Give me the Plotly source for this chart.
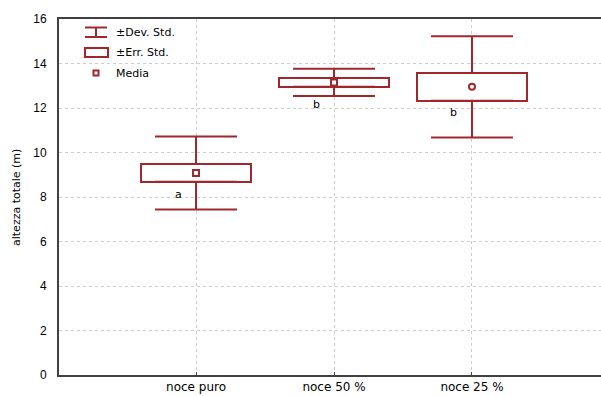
import plotly.graph_objects as go

categories = ["noce puro", "noce 50 %", "noce 25 %"]
cat_pos = [1, 2, 3]
means = [9.08, 13.15, 12.95]
std_err = [0.40, 0.20, 0.62]
std_dev = [1.64, 0.61, 2.28]
letters = ["a", "b", "b"]
mean_symbols = ["square-open", "square-open", "circle-open"]
y_ticks = [0, 2, 4, 6, 8, 10, 12, 14, 16]

RED = "#a0282c"
AX = "#404040"
FONT = "DejaVu Sans, sans-serif"
FONT2 = "Liberation Sans, Arial, sans-serif"

box_low = [m - s for m, s in zip(means, std_err)]
box_high = [m + s for m, s in zip(means, std_err)]
whisk_len = [d - s for d, s in zip(std_dev, std_err)]
zeros = [0] * len(means)

fig = go.Figure()

# SE box
fig.add_trace(go.Bar(
    x=cat_pos, y=[2 * s for s in std_err], base=box_low, width=0.8,
    marker=dict(color="white", line=dict(color=RED, width=2)),
    showlegend=False, hoverinfo="skip"))

# SD whiskers (upper and lower, starting from box edges)
fig.add_trace(go.Scatter(
    x=cat_pos, y=box_high, mode="markers", marker=dict(size=0.1, color="rgba(0,0,0,0)"),
    error_y=dict(type="data", array=whisk_len, arrayminus=zeros, symmetric=False,
                 color=RED, thickness=2, width=41),
    showlegend=False, hoverinfo="skip"))
fig.add_trace(go.Scatter(
    x=cat_pos, y=box_low, mode="markers", marker=dict(size=0.1, color="rgba(0,0,0,0)"),
    error_y=dict(type="data", array=zeros, arrayminus=whisk_len, symmetric=False,
                 color=RED, thickness=2, width=41),
    showlegend=False, hoverinfo="skip"))

# Means
fig.add_trace(go.Scatter(
    x=cat_pos, y=means, mode="markers",
    marker=dict(symbol=mean_symbols, size=6, color=RED, line=dict(color=RED, width=2)),
    showlegend=False))

# letters
yshifts = [-13, -18, -12]
for xp, lo, lt, ys in zip(cat_pos, box_low, letters, yshifts):
    fig.add_annotation(x=xp, y=lo, text=lt, showarrow=False, xshift=-18, yshift=ys,
                       font=dict(family=FONT, size=11, color="black"))

# legend (drawn manually), page pixel -> paper
PL, PT, PW, PH = 59, 19, 542, 356
def px_x(p):
    return (p - PL) / PW
def px_y(p):
    return 1 - (p - PT) / PH

shapes = []
shapes.append(dict(type="line", xref="paper", yref="paper", x0=px_x(85), x1=px_x(107),
                   y0=px_y(27.5), y1=px_y(27.5), line=dict(color=RED, width=2)))
shapes.append(dict(type="line", xref="paper", yref="paper", x0=px_x(85), x1=px_x(107),
                   y0=px_y(37), y1=px_y(37), line=dict(color=RED, width=2)))
shapes.append(dict(type="line", xref="paper", yref="paper", x0=px_x(96), x1=px_x(96),
                   y0=px_y(27.5), y1=px_y(37), line=dict(color=RED, width=2)))
shapes.append(dict(type="rect", xref="paper", yref="paper", x0=px_x(85), x1=px_x(108),
                   y0=px_y(57), y1=px_y(48), line=dict(color=RED, width=2), fillcolor="white"))
shapes.append(dict(type="rect", xref="paper", yref="paper", x0=px_x(93.5), x1=px_x(98.5),
                   y0=px_y(75.5), y1=px_y(70.5), line=dict(color=RED, width=2), fillcolor="white"))
for txt, yy in [("±Dev. Std.", 32), ("±Err. Std.", 52.5), ("Media", 73)]:
    fig.add_annotation(xref="paper", yref="paper", x=px_x(114), y=px_y(yy), text=txt,
                       showarrow=False, xanchor="left", yanchor="middle",
                       font=dict(family=FONT, size=11, color="black"))

# y axis title
fig.add_annotation(xref="paper", yref="paper", x=px_x(17), y=px_y(198), text="altezza totale (m)",
                   textangle=-90, showarrow=False, xanchor="center", yanchor="middle",
                   font=dict(family=FONT, size=11, color="black"))

fig.update_layout(
    width=601, height=396,
    margin=dict(l=59, r=0, t=19, b=21, autoexpand=False),
    paper_bgcolor="white", plot_bgcolor="white",
    shapes=shapes,
    font=dict(family=FONT, size=11, color="black"),
    xaxis=dict(range=[0.007, 3.935], tickvals=cat_pos, ticktext=categories,
               showline=True, linecolor=AX, linewidth=2, mirror=True,
               showgrid=True, gridcolor="#cccccc", griddash="dot", gridwidth=1,
               ticks="inside", ticklen=3, tickcolor=AX, zeroline=False,
               tickfont=dict(family=FONT, size=12), automargin=False),
    yaxis=dict(range=[0, 16], tickvals=y_ticks, showline=True, linecolor=AX, linewidth=2,
               showgrid=True, gridcolor="#cccccc", griddash="dot", gridwidth=1,
               ticks="", ticklabelstandoff=8, zeroline=False,
               tickfont=dict(family=FONT2, size=12), automargin=False),
    bargap=0,
)

fig.write_html("out.html", config={"displayModeBar": False},
               post_script="document.body.style.margin='0';document.body.style.overflow='hidden';")
